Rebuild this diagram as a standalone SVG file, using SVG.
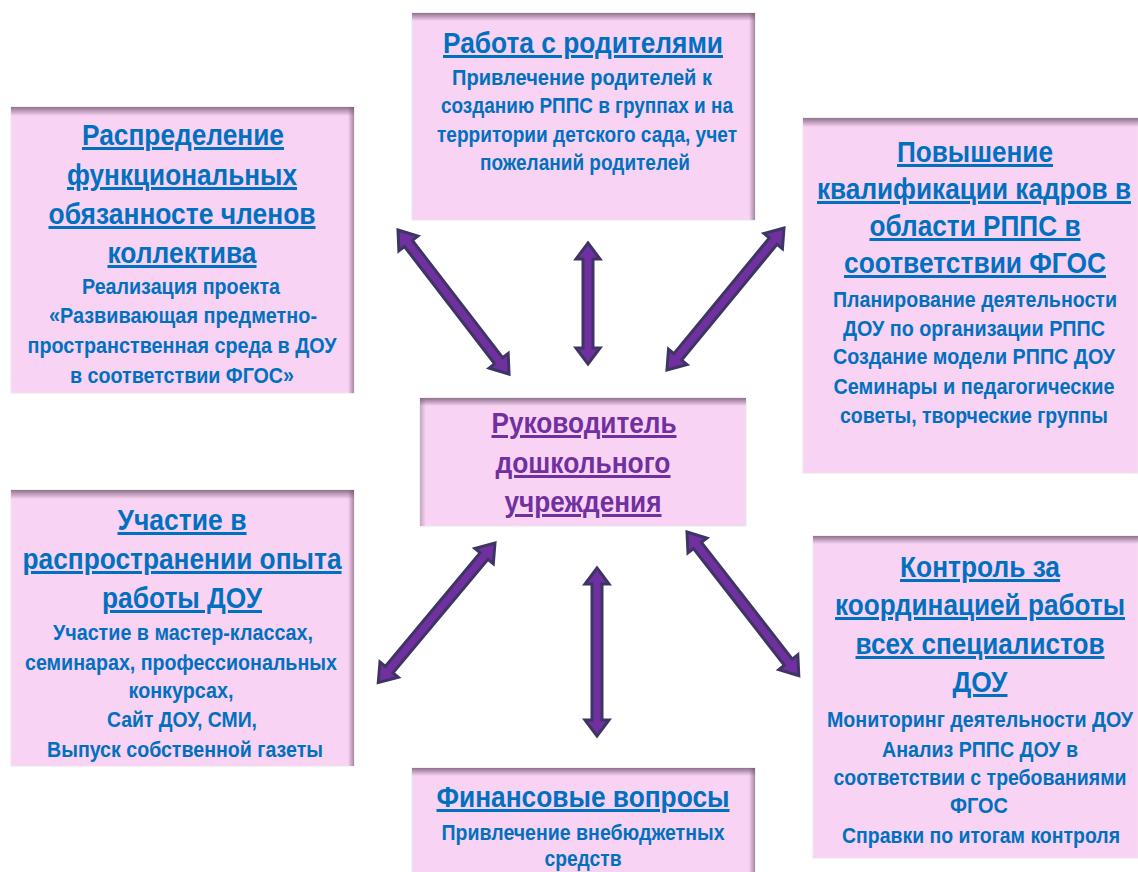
<svg xmlns="http://www.w3.org/2000/svg" width="1138" height="872" viewBox="0 0 1138 872">
<defs>
<linearGradient id="gTop" x1="0" y1="0" x2="0" y2="1">
<stop offset="0" stop-color="#6b4f6b" stop-opacity="0.75"/>
<stop offset="1" stop-color="#6b4f6b" stop-opacity="0"/>
</linearGradient>
<linearGradient id="gRight" x1="1" y1="0" x2="0" y2="0">
<stop offset="0" stop-color="#6b4f6b" stop-opacity="0.6"/>
<stop offset="1" stop-color="#6b4f6b" stop-opacity="0"/>
</linearGradient>
<linearGradient id="gLeft" x1="0" y1="0" x2="1" y2="0">
<stop offset="0" stop-color="#6b4f6b" stop-opacity="0.35"/>
<stop offset="1" stop-color="#6b4f6b" stop-opacity="0"/>
</linearGradient>
</defs>
<style>
.box{fill:#F9D3F3;stroke:#eee3ee;stroke-width:1}
.t{font-family:"Liberation Sans Narrow","Liberation Sans",Arial,sans-serif;font-weight:bold;font-size:30px;fill:#0070C0;text-anchor:middle;text-decoration:underline}
.s{font-family:"Liberation Sans Narrow","Liberation Sans",Arial,sans-serif;font-weight:bold;font-size:22px;fill:#0070C0;text-anchor:middle}
.c{font-family:"Liberation Sans Narrow","Liberation Sans",Arial,sans-serif;font-weight:bold;font-size:30px;fill:#7030A0;text-anchor:middle;text-decoration:underline}
.arr{fill:#7030A0;stroke:#3E3564;stroke-width:3;stroke-linejoin:miter}
</style>
<rect width="1138" height="872" fill="#ffffff"/>

<g id="node-raspredelenie">
<rect class="box" x="11" y="107" width="343" height="286"/>
<rect x="11" y="107" width="343" height="9" fill="url(#gTop)"/>
<rect x="348" y="107" width="6" height="286" fill="url(#gRight)"/>
<text class="t" x="183" y="145" textLength="202" lengthAdjust="spacingAndGlyphs">Распределение</text>
<text class="t" x="182" y="185" textLength="230" lengthAdjust="spacingAndGlyphs">функциональных</text>
<text class="t" x="182" y="224" textLength="267" lengthAdjust="spacingAndGlyphs">обязанносте членов</text>
<text class="t" x="182" y="263" textLength="149" lengthAdjust="spacingAndGlyphs">коллектива</text>
<text class="s" x="181" y="294" textLength="198" lengthAdjust="spacingAndGlyphs">Реализация проекта</text>
<text class="s" x="183" y="323" textLength="268" lengthAdjust="spacingAndGlyphs">«Развивающая предметно-</text>
<text class="s" x="182" y="353" textLength="309" lengthAdjust="spacingAndGlyphs">пространственная среда в ДОУ</text>
<text class="s" x="182" y="383" textLength="224" lengthAdjust="spacingAndGlyphs">в соответствии ФГОС»</text>
</g>

<g id="node-roditeli">
<rect class="box" x="412" y="13" width="343" height="207"/>
<rect x="412" y="13" width="343" height="8" fill="url(#gTop)"/>
<rect x="749" y="13" width="6" height="207" fill="url(#gRight)"/>
<text class="t" x="583" y="53" textLength="280" lengthAdjust="spacingAndGlyphs">Работа с родителями</text>
<text class="s" x="582" y="85" textLength="260" lengthAdjust="spacingAndGlyphs">Привлечение родителей к</text>
<text class="s" x="587" y="113" textLength="292" lengthAdjust="spacingAndGlyphs">созданию РППС в группах и на</text>
<text class="s" x="587" y="142" textLength="300" lengthAdjust="spacingAndGlyphs">территории детского сада, учет</text>
<text class="s" x="585" y="170" textLength="210" lengthAdjust="spacingAndGlyphs">пожеланий родителей</text>
</g>

<g id="node-kvalifikaciya">
<rect class="box" x="803" y="118" width="335" height="355"/>
<rect x="803" y="118" width="335" height="9" fill="url(#gTop)"/>
<text class="t" x="975" y="162" textLength="156" lengthAdjust="spacingAndGlyphs">Повышение</text>
<text class="t" x="974" y="199" textLength="314" lengthAdjust="spacingAndGlyphs">квалификации кадров в</text>
<text class="t" x="975" y="236" textLength="211" lengthAdjust="spacingAndGlyphs">области РППС в</text>
<text class="t" x="975" y="273" textLength="262" lengthAdjust="spacingAndGlyphs">соответствии ФГОС</text>
<text class="s" x="975" y="307" textLength="284" lengthAdjust="spacingAndGlyphs">Планирование деятельности</text>
<text class="s" x="974" y="336" textLength="262" lengthAdjust="spacingAndGlyphs">ДОУ по организации РППС</text>
<text class="s" x="974" y="364" textLength="282" lengthAdjust="spacingAndGlyphs">Создание модели РППС ДОУ</text>
<text class="s" x="974" y="394" textLength="281" lengthAdjust="spacingAndGlyphs">Семинары и педагогические</text>
<text class="s" x="974" y="423" textLength="268" lengthAdjust="spacingAndGlyphs">советы, творческие группы</text>
</g>

<g id="node-rukovoditel">
<rect class="box" x="420" y="398" width="326" height="128"/>
<rect x="420" y="398" width="326" height="8" fill="url(#gTop)"/>
<rect x="420" y="398" width="6" height="128" fill="url(#gLeft)"/>
<text class="c" x="584" y="433" textLength="185" lengthAdjust="spacingAndGlyphs">Руководитель</text>
<text class="c" x="583" y="473" textLength="175" lengthAdjust="spacingAndGlyphs">дошкольного</text>
<text class="c" x="583" y="512" textLength="157" lengthAdjust="spacingAndGlyphs">учреждения</text>
</g>

<g id="node-opyt">
<rect class="box" x="11" y="490" width="343" height="276"/>
<rect x="11" y="490" width="343" height="9" fill="url(#gTop)"/>
<rect x="348" y="490" width="6" height="276" fill="url(#gRight)"/>
<text class="t" x="182" y="530" textLength="129" lengthAdjust="spacingAndGlyphs">Участие в</text>
<text class="t" x="182" y="569" textLength="319" lengthAdjust="spacingAndGlyphs">распространении опыта</text>
<text class="t" x="182" y="608" textLength="160" lengthAdjust="spacingAndGlyphs">работы ДОУ</text>
<text class="s" x="183" y="640" textLength="260" lengthAdjust="spacingAndGlyphs">Участие в мастер-классах,</text>
<text class="s" x="181" y="670" textLength="312" lengthAdjust="spacingAndGlyphs">семинарах, профессиональных</text>
<text class="s" x="181" y="698" textLength="105" lengthAdjust="spacingAndGlyphs">конкурсах,</text>
<text class="s" x="182" y="727" textLength="150" lengthAdjust="spacingAndGlyphs">Сайт ДОУ, СМИ,</text>
<text class="s" x="185" y="757" textLength="276" lengthAdjust="spacingAndGlyphs">Выпуск собственной газеты</text>
</g>

<g id="node-finansy">
<rect class="box" x="412" y="768" width="343" height="110"/>
<rect x="412" y="768" width="343" height="8" fill="url(#gTop)"/>
<rect x="749" y="768" width="6" height="110" fill="url(#gRight)"/>
<text class="t" x="583" y="807" textLength="293" lengthAdjust="spacingAndGlyphs">Финансовые вопросы</text>
<text class="s" x="583" y="840" textLength="283" lengthAdjust="spacingAndGlyphs">Привлечение внебюджетных</text>
<text class="s" x="583" y="866" textLength="77" lengthAdjust="spacingAndGlyphs">средств</text>
</g>

<g id="node-kontrol">
<rect class="box" x="813" y="536" width="325" height="322"/>
<rect x="813" y="536" width="325" height="8" fill="url(#gTop)"/>
<text class="t" x="980" y="577" textLength="160" lengthAdjust="spacingAndGlyphs">Контроль за</text>
<text class="t" x="980" y="615" textLength="290" lengthAdjust="spacingAndGlyphs">координацией работы</text>
<text class="t" x="980" y="654" textLength="249" lengthAdjust="spacingAndGlyphs">всех специалистов</text>
<text class="t" x="980" y="692" textLength="55" lengthAdjust="spacingAndGlyphs">ДОУ</text>
<text class="s" x="980" y="727" textLength="306" lengthAdjust="spacingAndGlyphs">Мониторинг деятельности ДОУ</text>
<text class="s" x="980" y="757" textLength="196" lengthAdjust="spacingAndGlyphs">Анализ РППС ДОУ в</text>
<text class="s" x="980" y="785" textLength="293" lengthAdjust="spacingAndGlyphs">соответствии с требованиями</text>
<text class="s" x="979" y="813" textLength="58" lengthAdjust="spacingAndGlyphs">ФГОС</text>
<text class="s" x="981" y="843" textLength="278" lengthAdjust="spacingAndGlyphs">Справки по итогам контроля</text>
</g>

<g id="connectors">
<path class="arr" transform="translate(398,230) rotate(52.4)" d="M0,0 L17,-12 L17,-5 L165,-5 L165,-12 L182,0 L165,12 L165,5 L17,5 L17,12 Z"/>
<path class="arr" transform="translate(588,243) rotate(90)" d="M0,0 L16,-12 L16,-5 L105,-5 L105,-12 L121,0 L105,12 L105,5 L16,5 L16,12 Z"/>
<path class="arr" transform="translate(784,228) rotate(129.5)" d="M0,0 L17,-12 L17,-5 L167,-5 L167,-12 L184,0 L167,12 L167,5 L17,5 L17,12 Z"/>
<path class="arr" transform="translate(495,543) rotate(129.9)" d="M0,0 L17,-12 L17,-5 L165,-5 L165,-12 L182,0 L165,12 L165,5 L17,5 L17,12 Z"/>
<path class="arr" transform="translate(597,568) rotate(90)" d="M0,0 L16,-12 L16,-5 L152,-5 L152,-12 L168,0 L152,12 L152,5 L16,5 L16,12 Z"/>
<path class="arr" transform="translate(687,532) rotate(52.1)" d="M0,0 L17,-12 L17,-5 L165,-5 L165,-12 L182,0 L165,12 L165,5 L17,5 L17,12 Z"/>
</g>
</svg>
